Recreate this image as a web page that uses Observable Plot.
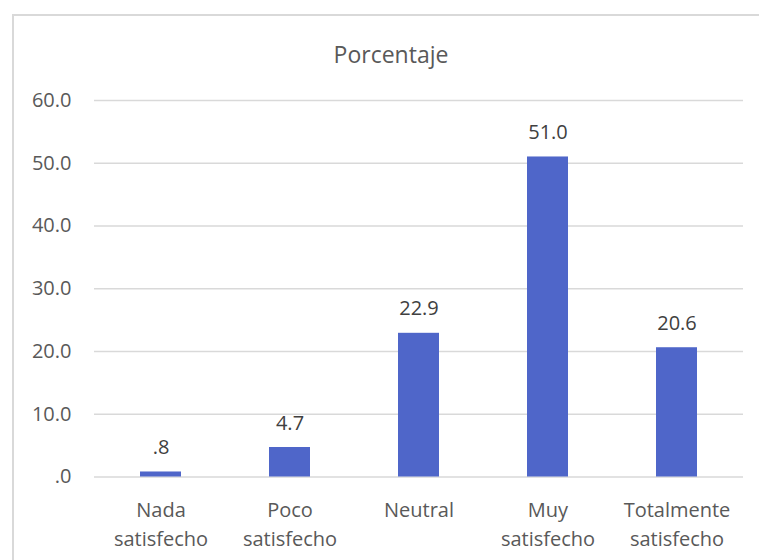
<!DOCTYPE html>
<html>
<head>
<meta charset="utf-8">
<script src="https://cdn.jsdelivr.net/npm/d3@7"></script>
<script src="https://cdn.jsdelivr.net/npm/@observablehq/plot@0.6"></script>
<style>
  html, body { margin: 0; padding: 0; background: #fff; }
  #wrap { position: relative; width: 759px; height: 560px; overflow: hidden; }
  #border { position: absolute; left: 12px; top: 14px; right: -2px; bottom: -2px;
            border-left: 2px solid #d9d9d9; border-top: 2px solid #d9d9d9; pointer-events: none; }
  svg { display: block; }
</style>
</head>
<body>
<div id="wrap"><div id="border"></div></div>
<script>
// Satisfaction levels and their percentages
const categories = ["Nada\nsatisfecho", "Poco\nsatisfecho", "Neutral", "Muy\nsatisfecho", "Totalmente\nsatisfecho"];
const percentages = [0.8, 4.7, 22.9, 51.0, 20.6];
const yTicks = [0, 10, 20, 30, 40, 50, 60];
const chartTitle = "Porcentaje";

const data = categories.map((c, i) => ({category: c, value: percentages[i]}));

// One decimal, without the leading zero (".8", ".0")
const fmt = v => d3.format(".1f")(v).replace(/^0\./, ".");

const font = "'Open Sans', sans-serif";
const ink = "#595959";

const chart = Plot.plot({
  width: 759,
  height: 560,
  marginLeft: 94,
  marginRight: 16,
  marginTop: 100,
  marginBottom: 83.5,
  style: {fontFamily: font, fontSize: "20px", color: ink, background: "transparent"},
  x: {domain: categories, paddingInner: 0.68, paddingOuter: 0.34, label: null},
  y: {domain: [0, 60], label: null},
  marks: [
    Plot.gridY(yTicks, {stroke: "#d9d9d9", strokeOpacity: 1, strokeWidth: 1.5}),
    Plot.axisY(yTicks, {tickSize: 0, tickPadding: 23, tickFormat: fmt, fill: ink, fontSize: 20, label: null}),
    Plot.axisX({tickSize: 0, tickPadding: 19, fill: ink, fontSize: 20, lineHeight: 1.45, label: null}),
    Plot.barY(data, {x: "category", y: "value", fill: "#4f66c9"}),
    Plot.text(data, {x: "category", y: "value", text: d => fmt(d.value), lineAnchor: "bottom",
                     dy: -18, fill: "#404040", fontSize: 20}),
    // Chart title, centred over the whole chart area rather than the plot frame
    Plot.text([chartTitle], {frameAnchor: "top", dx: -28, dy: -38, lineAnchor: "bottom",
                     fill: ink, fontSize: 23})
  ]
});

document.getElementById("wrap").prepend(chart);
</script>
</body>
</html>
